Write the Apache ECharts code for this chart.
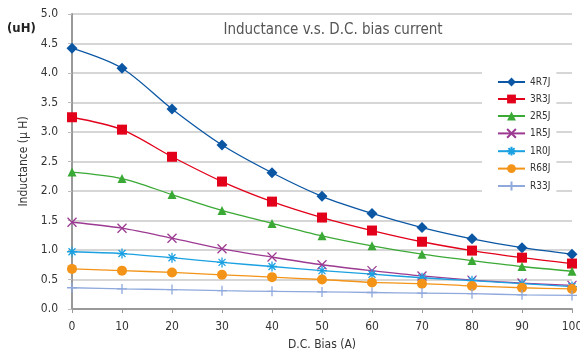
<!DOCTYPE html>
<html>
<head>
<meta charset="utf-8">
<script src="https://cdn.jsdelivr.net/npm/echarts@6/dist/echarts.min.js"></script>
<style>
  html, body { margin: 0; padding: 0; background: #fff; }
  #chart { width: 580px; height: 351px; }
</style>
</head>
<body>
<div id="chart"></div>
<script>
// D.C. bias current (A)
var biasCurrent = [0, 10, 20, 30, 40, 50, 60, 70, 80, 90, 100];

// inductance (uH) per part
var l4R7J = [4.42, 4.08, 3.39, 2.78, 2.31, 1.91, 1.62, 1.38, 1.19, 1.04, 0.93];
var l3R3J = [3.25, 3.04, 2.58, 2.16, 1.82, 1.55, 1.33, 1.14, 0.99, 0.87, 0.77];
var l2R5J = [2.32, 2.21, 1.94, 1.67, 1.45, 1.24, 1.07, 0.93, 0.82, 0.72, 0.64];
var l1R5J = [1.47, 1.37, 1.20, 1.02, 0.88, 0.75, 0.65, 0.56, 0.49, 0.44, 0.40];
var l1R0J = [0.97, 0.94, 0.87, 0.79, 0.72, 0.65, 0.59, 0.53, 0.48, 0.43, 0.38];
var lR68J = [0.68, 0.65, 0.62, 0.58, 0.54, 0.50, 0.45, 0.43, 0.39, 0.36, 0.34];
var lR33J = [0.36, 0.34, 0.33, 0.31, 0.30, 0.29, 0.28, 0.27, 0.26, 0.24, 0.23];

var FONT = '"Liberation Sans Narrow", "DejaVu Sans Condensed", "Liberation Sans", sans-serif';

// marker shapes
var symX = 'path://M0,0 L10,10 M10,0 L0,10';
var symStar = 'path://M5,0 L5,10 M0,5 L10,5 M1.5,1.5 L8.5,8.5 M8.5,1.5 L1.5,8.5';
var symPlus = 'path://M5,0 L5,10 M0,5 L10,5';

function mkSeries(name, data, color, symbol, size, hollow) {
  var s = {
    name: name,
    type: 'line',
    smooth: 0.3,
    data: data,
    symbol: symbol,
    symbolSize: size,
    lineStyle: { color: color, width: 1.3 },
    itemStyle: { color: color }
  };
  if (hollow) {
    s.itemStyle = { color: '#fff', borderColor: color, borderWidth: 1.3 };
  }
  return s;
}

var chart = echarts.init(document.getElementById('chart'));
var option = {
  backgroundColor: '#fff',
  animation: false,
  title: {
    text: 'Inductance v.s. D.C. bias current',
    left: 328,
    top: 18,
    textAlign: 'center',
    textStyle: { fontFamily: FONT, fontSize: 15, fontWeight: 'normal', color: '#555' }
  },
  graphic: [{
    type: 'text',
    left: 7,
    top: 22,
    style: { text: '(uH)', font: 'bold 13px ' + FONT, fill: '#222' }
  }],
  legend: {
    show: true,
    orient: 'vertical',
    left: 482,
    top: 66,
    padding: [11, 6, 9, 15],
    backgroundColor: '#fff',
    itemWidth: 27,
    itemHeight: 11,
    itemGap: 7,
    data: ['4R7J', '3R3J', '2R5J', '1R5J', '1R0J', 'R68J', 'R33J'],
    textStyle: { fontFamily: FONT, fontSize: 10, color: '#333' }
  },
  grid: { left: 72, right: 8, top: 14, bottom: 42, outerBoundsMode: 'none', containLabel: false },
  xAxis: {
    type: 'category',
    data: biasCurrent,
    boundaryGap: false,
    name: 'D.C. Bias (A)',
    nameLocation: 'middle',
    nameGap: 30,
    nameTextStyle: { fontFamily: FONT, fontSize: 12, color: '#333' },
    axisLine: { lineStyle: { color: '#999', width: 2 } },
    axisTick: { alignWithLabel: true, length: 4, lineStyle: { color: '#999' } },
    axisLabel: { fontFamily: FONT, fontSize: 12, color: '#333', margin: 12 },
    splitLine: { show: false }
  },
  yAxis: {
    type: 'value',
    min: 0,
    max: 5,
    interval: 0.5,
    name: 'Inductance (μ H)',
    nameLocation: 'middle',
    nameGap: 40,
    nameTextStyle: { fontFamily: FONT, fontSize: 12, color: '#333' },
    axisLine: { show: true, lineStyle: { color: '#999', width: 2 } },
    axisTick: { show: true, length: 4, lineStyle: { color: '#bbb' } },
    axisLabel: {
      fontFamily: FONT, fontSize: 12, color: '#333', margin: 14,
      formatter: function (v) { return v.toFixed(1); }
    },
    splitLine: { lineStyle: { color: '#c8c8c8', width: 1.5 } }
  },
  series: [
    mkSeries('4R7J', l4R7J, '#0b57a4', 'diamond', 11),
    mkSeries('3R3J', l3R3J, '#e2001a', 'rect', 10),
    mkSeries('2R5J', l2R5J, '#3aa935', 'triangle', 9),
    mkSeries('1R5J', l1R5J, '#9c3a92', symX, 9, true),
    mkSeries('1R0J', l1R0J, '#1ba1e2', symStar, 10, true),
    mkSeries('R68J', lR68J, '#f39317', 'circle', 10),
    mkSeries('R33J', lR33J, '#8fa9dc', symPlus, 10, true)
  ]
};
chart.setOption(option);
</script>
</body>
</html>
